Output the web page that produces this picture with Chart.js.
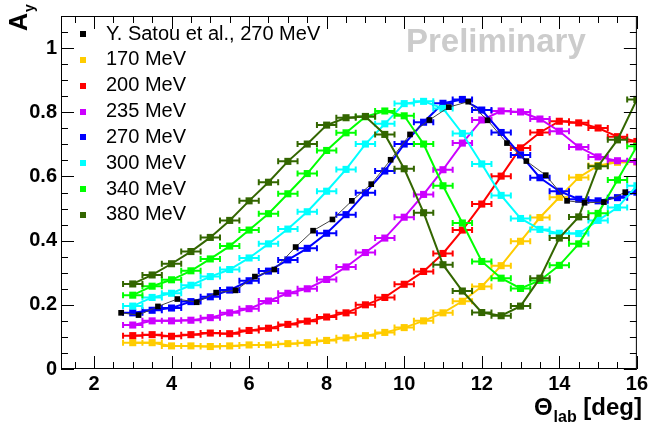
<!DOCTYPE html>
<html>
<head>
<meta charset="utf-8">
<script src="https://cdn.jsdelivr.net/npm/chart.js@4.4.1/dist/chart.umd.min.js"></script>
<style>
  html, body { margin: 0; padding: 0; background: #fff; }
  canvas { display: block; }
</style>
</head>
<body>
<canvas id="chart" width="651" height="432"></canvas>
<script>
// values (A_y vs lab angle)
const angles = [3.0, 3.5, 4.0, 4.5, 5.0, 5.5, 6.0, 6.5, 7.0, 7.5, 8.0, 8.5, 9.0, 9.5,
  10.0, 10.5, 11.0, 11.5, 12.0, 12.5, 13.0, 13.5, 14.0, 14.5, 15.0, 15.5, 16.0];

const ay170 = [0.082, 0.082, 0.072, 0.072, 0.070, 0.072, 0.075, 0.075, 0.079, 0.082, 0.089, 0.097, 0.104, 0.114,
  0.129, 0.150, 0.175, 0.211, 0.257, 0.322, 0.398, 0.472, 0.535, 0.597, 0.634, 0.644, 0.645];
const ay200 = [0.104, 0.107, 0.102, 0.107, 0.112, 0.110, 0.120, 0.127, 0.139, 0.149, 0.162, 0.175, 0.200, 0.223,
  0.264, 0.304, 0.360, 0.433, 0.514, 0.601, 0.689, 0.737, 0.772, 0.767, 0.751, 0.724, 0.709];
const ay235 = [0.137, 0.150, 0.150, 0.152, 0.160, 0.175, 0.188, 0.212, 0.236, 0.250, 0.279, 0.318, 0.363, 0.408,
  0.473, 0.544, 0.621, 0.704, 0.776, 0.804, 0.801, 0.779, 0.741, 0.692, 0.661, 0.649, 0.646];
const ay270 = [0.175, 0.183, 0.190, 0.210, 0.225, 0.246, 0.275, 0.305, 0.340, 0.376, 0.423, 0.481, 0.549, 0.617,
  0.701, 0.769, 0.828, 0.840, 0.807, 0.737, 0.667, 0.596, 0.554, 0.529, 0.524, 0.534, 0.551];
const ay300 = [0.196, 0.223, 0.236, 0.261, 0.288, 0.310, 0.346, 0.390, 0.436, 0.490, 0.554, 0.622, 0.701, 0.764,
  0.827, 0.834, 0.812, 0.734, 0.639, 0.541, 0.469, 0.435, 0.423, 0.422, 0.463, 0.503, 0.571];
const ay340 = [0.230, 0.258, 0.278, 0.306, 0.343, 0.383, 0.433, 0.484, 0.546, 0.609, 0.681, 0.736, 0.786, 0.804,
  0.789, 0.701, 0.571, 0.455, 0.335, 0.283, 0.251, 0.276, 0.323, 0.390, 0.485, 0.589, 0.694];
const ay380 = [0.265, 0.293, 0.328, 0.366, 0.410, 0.463, 0.524, 0.582, 0.647, 0.701, 0.760, 0.783, 0.787, 0.731,
  0.624, 0.487, 0.325, 0.243, 0.176, 0.166, 0.196, 0.283, 0.408, 0.474, 0.632, 0.714, 0.840];

// Y. Satou et al., 270 MeV
const satouAngles = [2.7, 3.15, 3.65, 4.15, 4.65, 5.15, 5.65, 6.15, 6.65, 7.2, 7.65, 8.15, 8.65, 9.15,
  9.65, 10.15, 10.65, 11.15, 11.65, 12.15, 12.65, 13.15, 13.65, 14.2, 14.65, 15.15, 15.7];
const satouAy = [0.175, 0.168, 0.195, 0.218, 0.208, 0.238, 0.245, 0.288, 0.310, 0.380, 0.431, 0.466, 0.524, 0.576,
  0.652, 0.731, 0.776, 0.816, 0.833, 0.775, 0.704, 0.648, 0.604, 0.524, 0.518, 0.520, 0.551];

const xErr = 0.25;   // half width of the angular bins
const xTicks = [2, 4, 6, 8, 10, 12, 14, 16];
const yTicks = [0, 0.2, 0.4, 0.6, 0.8, 1];

const FONT = "'Liberation Sans', Arial, Helvetica, sans-serif";

const pts = (xs, ys) => xs.map((x, i) => ({ x, y: ys[i] }));

function series(label, values, color, order) {
  return {
    label,
    data: pts(angles, values),
    borderColor: color,
    backgroundColor: color,
    pointBackgroundColor: color,
    borderWidth: 2,
    pointStyle: 'rect',
    pointRadius: 5,
    pointBorderWidth: 0,
    xErr,
    order
  };
}

// horizontal error bars drawn just under each dataset
const errorBars = {
  id: 'errorBars',
  beforeDatasetDraw(chart, args) {
    const ds = chart.data.datasets[args.index];
    if (!ds.xErr) return;
    const { ctx, chartArea: a, scales: { x, y } } = chart;
    ctx.save();
    ctx.beginPath();
    ctx.rect(a.left, a.top, a.right - a.left, a.bottom - a.top);
    ctx.clip();
    ctx.strokeStyle = ds.borderColor;
    ctx.lineWidth = 2;
    ctx.beginPath();
    ds.data.forEach(p => {
      const x0 = x.getPixelForValue(p.x - ds.xErr);
      const x1 = x.getPixelForValue(p.x + ds.xErr);
      const py = y.getPixelForValue(p.y);
      ctx.moveTo(x0, py); ctx.lineTo(x1, py);
      ctx.moveTo(x0, py - 3); ctx.lineTo(x0, py + 3);
      ctx.moveTo(x1, py - 3); ctx.lineTo(x1, py + 3);
    });
    ctx.stroke();
    ctx.restore();
  }
};

// ROOT style frame with inward ticks on all four sides
const frame = {
  id: 'frame',
  afterDatasetsDraw(chart) {
    const { ctx, chartArea: a, scales: { x, y } } = chart;
    ctx.save();
    ctx.strokeStyle = '#000';
    ctx.lineWidth = 1;
    ctx.strokeRect(a.left + 0.5, a.top + 0.5, a.right - a.left - 1, a.bottom - a.top - 1);
    ctx.beginPath();
    for (let k = Math.ceil(x.min * 2); k <= Math.floor(x.max * 2 + 1e-9); k++) {
      const v = k / 2;
      const px = Math.round(x.getPixelForValue(v)) + 0.5;
      const len = xTicks.includes(v) ? 13 : 7;
      ctx.moveTo(px, a.bottom); ctx.lineTo(px, a.bottom - len);
      ctx.moveTo(px, a.top); ctx.lineTo(px, a.top + len);
    }
    for (let k = 0; k <= Math.round(y.max * 20); k++) {
      const py = Math.round(y.getPixelForValue(k / 20)) + 0.5;
      const len = k % 4 === 0 ? 13 : 7;
      ctx.moveTo(a.left, py); ctx.lineTo(a.left + len, py);
      ctx.moveTo(a.right, py); ctx.lineTo(a.right - len, py);
    }
    ctx.stroke();
    ctx.restore();
  }
};

// legend, axis titles and the "Preliminary" stamp
const labels = {
  id: 'labels',
  afterDraw(chart) {
    const { ctx } = chart;
    ctx.save();

    ctx.font = `bold 33px ${FONT}`;
    ctx.fillStyle = '#cccccc';
    ctx.textBaseline = 'alphabetic';
    ctx.fillText('Preliminary', 406, 52);

    ctx.font = `20px ${FONT}`;
    ctx.textBaseline = 'middle';
    chart.data.datasets.forEach((ds, i) => {
      const cy = 34 + i * 25.85;
      ctx.fillStyle = ds.pointBackgroundColor;
      ctx.fillRect(80, Math.round(cy) - 3, 6, 6);
      ctx.fillStyle = '#000';
      ctx.fillText(ds.label, 106, cy);
    });

    // x title: Θ_lab [deg]
    ctx.textBaseline = 'alphabetic';
    ctx.fillStyle = '#000';
    const big = `bold 24px ${FONT}`, sub = `bold 16px ${FONT}`;
    ctx.font = big;
    const wT = ctx.measureText('\u0398').width;
    const wD = ctx.measureText(' [deg]').width;
    ctx.font = sub;
    const wL = ctx.measureText('lab').width;
    let x0 = 641 - (wT + wL + wD);
    ctx.font = big;
    ctx.fillText('\u0398', x0, 415);
    ctx.font = sub;
    ctx.fillText('lab', x0 + wT + 1, 422);
    ctx.font = big;
    ctx.fillText(' [deg]', x0 + wT + wL + 1, 415);

    // y title: A_y
    ctx.translate(27, 31);
    ctx.rotate(-Math.PI / 2);
    ctx.font = `bold 25px ${FONT}`;
    ctx.fillText('A', 0, 0);
    const wA = ctx.measureText('A').width;
    ctx.font = `bold 14px ${FONT}`;
    ctx.fillText('y', wA + 1, 7);
    ctx.restore();
  }
};

const datasets = [
  {
    label: 'Y. Satou et al., 270 MeV',
    data: pts(satouAngles, satouAy),
    borderColor: '#444444',
    backgroundColor: '#000000',
    pointBackgroundColor: '#000000',
    borderWidth: 1,
    pointStyle: 'rect',
    pointRadius: 4,
    pointBorderWidth: 0,
    order: 0
  },
  series('170 MeV', ay170, '#ffcc00', 7),
  series('200 MeV', ay200, '#ff0000', 6),
  series('235 MeV', ay235, '#cc00ff', 5),
  series('270 MeV', ay270, '#0000ff', 4),
  series('300 MeV', ay300, '#00ffff', 3),
  series('340 MeV', ay340, '#00ff00', 2),
  series('380 MeV', ay380, '#336600', 1)
];

new Chart(document.getElementById('chart').getContext('2d'), {
  type: 'line',
  data: { datasets },
  options: {
    responsive: false,
    animation: false,
    events: [],
    layout: { padding: { top: 4, right: 10, left: 0, bottom: 0 } },
    plugins: {
      legend: { display: false },
      tooltip: { enabled: false }
    },
    elements: { line: { tension: 0 } },
    scales: {
      x: {
        type: 'linear',
        min: 1.15,
        max: 16,
        afterFit: s => { s.height = 63; },
        afterBuildTicks: s => { s.ticks = xTicks.map(value => ({ value })); },
        grid: { display: false, drawTicks: false },
        border: { display: false },
        ticks: {
          padding: 3,
          maxRotation: 0,
          autoSkip: false,
          color: '#000',
          font: { family: FONT, size: 20, weight: 'bold' },
          callback: v => `${v}`
        }
      },
      y: {
        type: 'linear',
        min: 0,
        max: 1.1,
        afterFit: s => { s.width = 61; },
        afterBuildTicks: s => { s.ticks = yTicks.map(value => ({ value })); },
        grid: { display: false, drawTicks: false },
        border: { display: false },
        ticks: {
          padding: 4,
          autoSkip: false,
          color: '#000',
          font: { family: FONT, size: 20, weight: 'bold' },
          callback: v => `${v}`
        }
      }
    }
  },
  plugins: [errorBars, frame, labels]
});
</script>
</body>
</html>
